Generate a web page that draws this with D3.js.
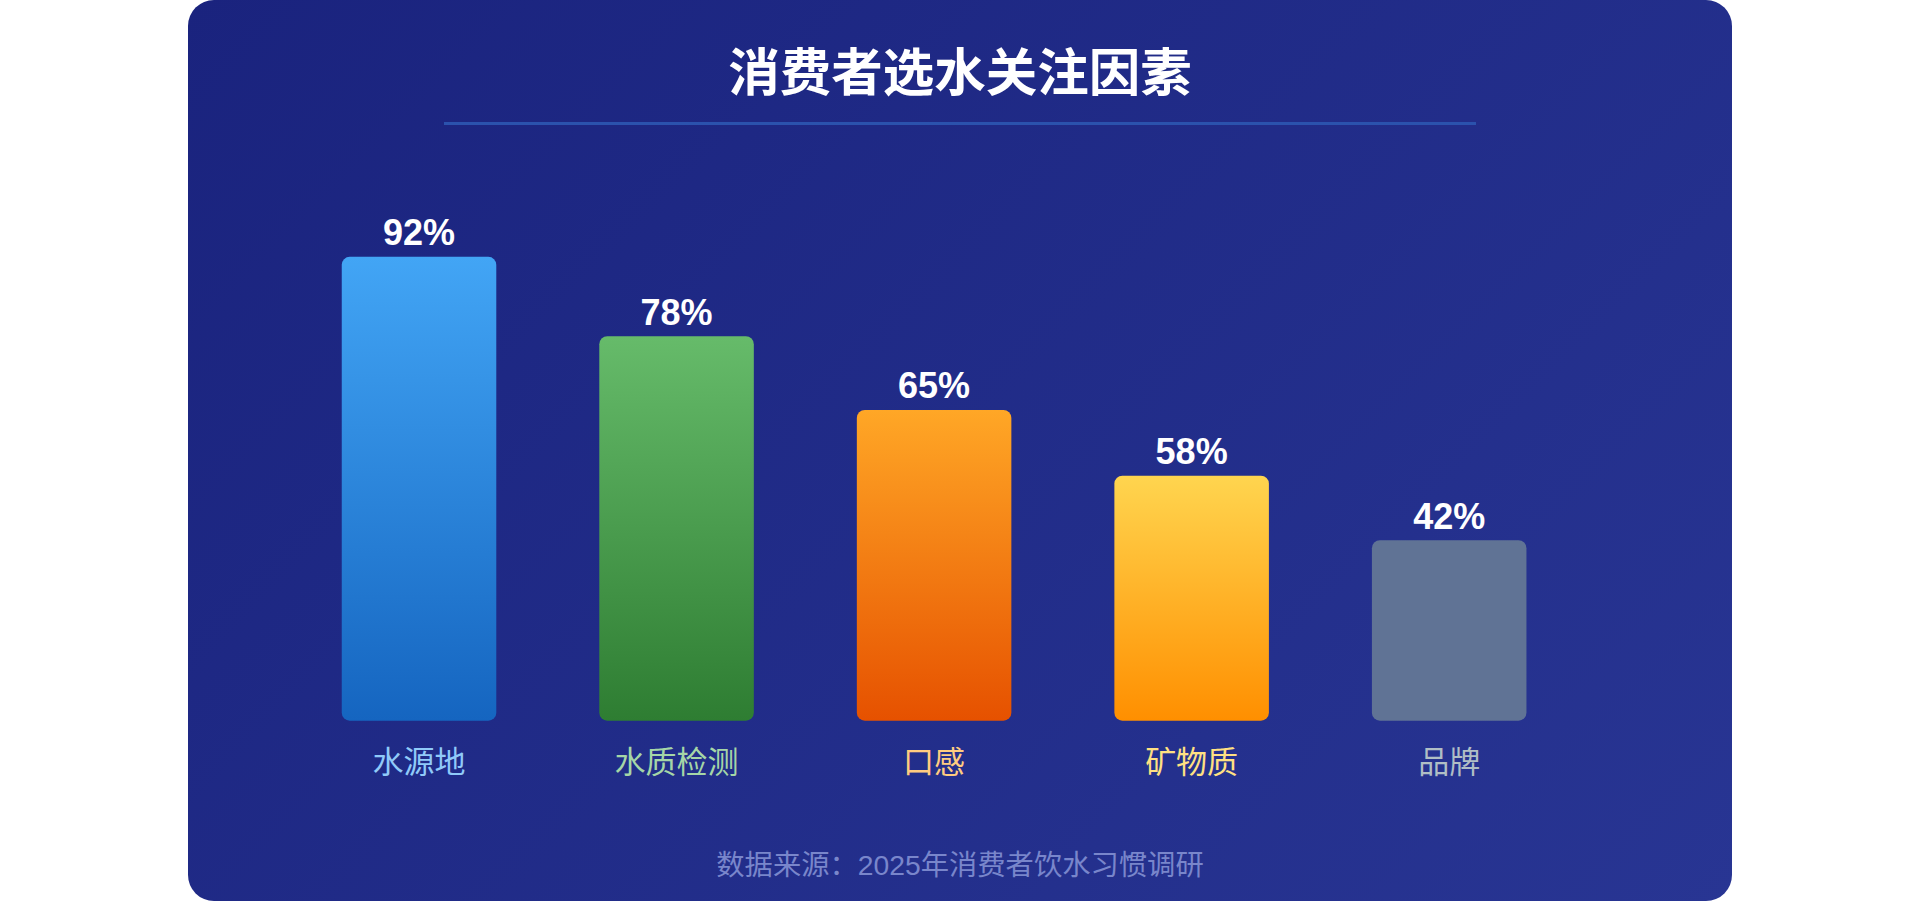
<!DOCTYPE html>
<html><head><meta charset="utf-8">
<script src="https://cdn.jsdelivr.net/npm/d3@7/dist/d3.min.js"></script>
<style>
html,body{margin:0;padding:0;background:#ffffff;overflow:hidden;}
svg{display:block;}
</style></head>
<body>
<svg id="chart" width="1920" height="901"></svg>
<script>
// ---- data ----
const titleText = "消费者选水关注因素";
const footerText = "数据来源：2025年消费者饮水习惯调研";
const categories = ["水源地", "水质检测", "口感", "矿物质", "品牌"];
const values = [92, 78, 65, 58, 42];            // printed percentages
const barLevels = [92, 78, 65, 53.4, 42];       // drawn bar level
const valueLabels = ["92%", "78%", "65%", "58%", "42%"];
const gradTop = ["#42a5f5", "#66bb6a", "#ffa726", "#ffd54f", "#607395"];
const gradBottom = ["#1565c0", "#2e7d32", "#e65100", "#ff8f00", "#607395"];
const labelColors = ["#90caf9", "#a5d6a7", "#ffcc80", "#ffe082", "#b0bec5"];

const svg = d3.select("#chart");
const defs = svg.append("defs");

// card
const card = {x: 188, y: 0, w: 1544, h: 901, r: 26};
const cx = card.x + card.w / 2, cy = card.y + card.h / 2;
const gl = (card.w + card.h) / Math.SQRT2 / 2;
const bg = defs.append("linearGradient").attr("id", "bgGrad")
  .attr("gradientUnits", "userSpaceOnUse")
  .attr("x1", cx - gl / Math.SQRT2).attr("y1", cy - gl / Math.SQRT2)
  .attr("x2", cx + gl / Math.SQRT2).attr("y2", cy + gl / Math.SQRT2);
bg.append("stop").attr("offset", "0%").attr("stop-color", "#1a237e");
bg.append("stop").attr("offset", "100%").attr("stop-color", "#283593");

svg.append("rect").attr("x", card.x).attr("y", card.y).attr("width", card.w).attr("height", card.h)
  .attr("rx", card.r).attr("ry", card.r).attr("fill", "url(#bgGrad)");

// title
svg.append("text").attr("x", 960).attr("y", 91)
  .attr("text-anchor", "middle")
  .attr("font-family", "'Noto Sans CJK SC', sans-serif")
  .attr("font-weight", 700).attr("font-size", 51.5)
  .attr("fill", "#ffffff").text(titleText);

svg.append("rect").attr("x", 444).attr("y", 122).attr("width", 1032).attr("height", 3)
  .attr("fill", "#2b52ad");

// scales
const baseY = 720.7;
const x = d3.scaleBand().domain(categories).range([290.25, 1577.95])
  .paddingInner(0.4).paddingOuter(0.2);
const y = d3.scaleLinear().domain([0, 100]).range([baseY, baseY - 566.8]);
const labelBlock = 57.6; // space reserved above each bar for its value label

categories.forEach((c, i) => {
  const g = defs.append("linearGradient").attr("id", "bar" + i)
    .attr("x1", 0).attr("y1", 0).attr("x2", 0).attr("y2", 1);
  g.append("stop").attr("offset", "0%").attr("stop-color", gradTop[i]);
  g.append("stop").attr("offset", "100%").attr("stop-color", gradBottom[i]);
});

const data = categories.map((c, i) => ({c, v: values[i], lv: barLevels[i], label: valueLabels[i], i}));
const barTop = d => y(d.lv) + labelBlock;

svg.selectAll("rect.bar").data(data).enter().append("rect")
  .attr("class", "bar")
  .attr("x", d => x(d.c)).attr("width", x.bandwidth())
  .attr("y", d => barTop(d)).attr("height", d => baseY - barTop(d))
  .attr("rx", 8).attr("ry", 8)
  .attr("fill", d => `url(#bar${d.i})`);

svg.selectAll("text.val").data(data).enter().append("text")
  .attr("class", "val")
  .attr("x", d => x(d.c) + x.bandwidth() / 2)
  .attr("y", d => barTop(d) - 11.6)
  .attr("text-anchor", "middle")
  .attr("font-family", "'Liberation Sans', Arial, sans-serif")
  .attr("font-weight", 700).attr("font-size", 36)
  .attr("fill", "#ffffff").text(d => d.label);

svg.selectAll("text.cat").data(data).enter().append("text")
  .attr("class", "cat")
  .attr("x", d => x(d.c) + x.bandwidth() / 2)
  .attr("y", 773)
  .attr("text-anchor", "middle")
  .attr("font-family", "'Noto Sans CJK SC', sans-serif")
  .attr("font-size", 31)
  .attr("fill", d => labelColors[d.i]).text(d => d.c);

svg.append("text").attr("x", 960).attr("y", 874.5)
  .attr("text-anchor", "middle")
  .attr("font-family", "'Liberation Sans', Arial, 'Noto Sans CJK SC', sans-serif")
  .attr("font-size", 28.3)
  .attr("fill", "#7986cb").text(footerText);
</script>
</body></html>
